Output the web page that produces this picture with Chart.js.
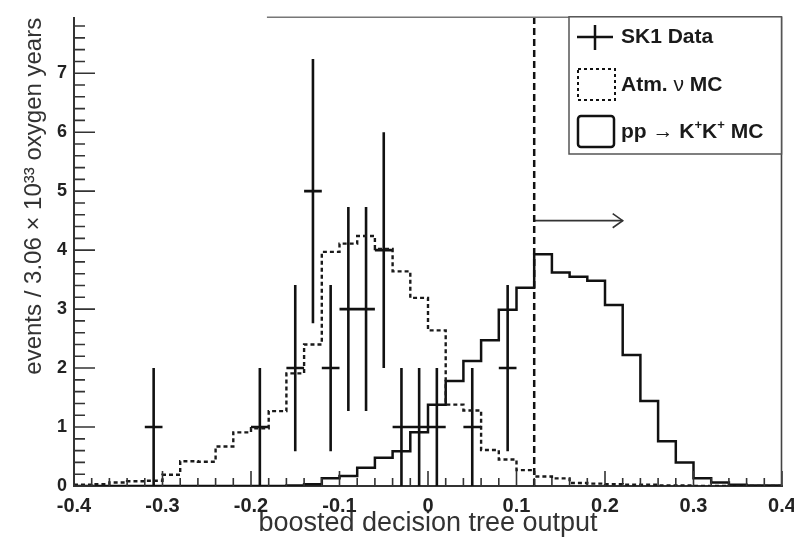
<!DOCTYPE html>
<html>
<head>
<meta charset="utf-8">
<script src="https://cdn.jsdelivr.net/npm/chart.js@4/dist/chart.umd.min.js"></script>
<style>
html,body{margin:0;padding:0;background:#fff;}
canvas{display:block;}
</style>
</head>
<body>
<canvas id="c" width="794" height="548"></canvas>
<script>
// ---------- data ----------
const binEdges = [-0.40,-0.38,-0.36,-0.34,-0.32,-0.30,-0.28,-0.26,-0.24,-0.22,
                  -0.20,-0.18,-0.16,-0.14,-0.12,-0.10,-0.08,-0.06,-0.04,-0.02,
                   0.00, 0.02, 0.04, 0.06, 0.08, 0.10, 0.12, 0.14, 0.16, 0.18,
                   0.20, 0.22, 0.24, 0.26, 0.28, 0.30, 0.32, 0.34, 0.36, 0.38, 0.40];

// Atm. nu MC (dashed histogram), one value per bin
const atmNuMC = [0.02,0.03,0.06,0.08,0.09,0.19,0.42,0.41,0.67,0.91,
                 0.98,1.27,1.91,2.40,3.97,4.11,4.24,4.02,3.64,3.19,
                 2.64,1.38,1.28,0.61,0.45,0.27,0.16,0.13,0.05,0.04,
                 0.03,0.02,0.02,0.01,0.01,0.00,0.00,0.00,0.00,0.00];

// pp -> K+K+ MC (solid histogram), one value per bin
const ppKKMC = [0.00,0.00,0.00,0.00,0.00,0.00,0.00,0.00,0.00,0.00,
                0.00,0.00,0.01,0.03,0.13,0.17,0.31,0.48,0.59,0.91,
                1.38,1.78,2.12,2.47,2.99,3.36,3.93,3.62,3.55,3.48,
                3.07,2.22,1.44,0.76,0.40,0.13,0.06,0.02,0.01,0.01];

// SK1 data points with error bars
const dataX    = [-0.31,-0.19,-0.15,-0.13,-0.11,-0.09,-0.07,-0.05,-0.03,-0.01, 0.01, 0.05, 0.09];
const dataY    = [ 1,    1,    2,    5,    2,    3,    3,    4,    1,    1,    1,    1,    2   ];
const dataLow  = [ 0,    0,    0.59, 2.76, 0.59, 1.27, 1.27, 2.00, 0,    0,    0,    0,    0.59];
const dataHigh = [ 2,    2,    3.41, 7.24, 3.41, 4.73, 4.73, 6.00, 2,    2,    2,    2,    3.41];
const dataHalfBin = 0.01;

// axis ticks
const xTickValues = [-0.4,-0.3,-0.2,-0.1,0,0.1,0.2,0.3,0.4];
const xTickLabels = ['-0.4','-0.3','-0.2','-0.1','0','0.1','0.2','0.3','0.4'];
const yTickValues = [0,1,2,3,4,5,6,7];
const yTickLabels = ['0','1','2','3','4','5','6','7'];
const xRange = [-0.4, 0.4];
const yRange = [0, 7.94];

// selection cut and arrow
const cutValue = 0.12;
const arrowY = 4.5;
const arrowEndX = 0.22;
const arrowHeadX = 0.2087;
const arrowHeadHalf = 0.12;

// legend
const legendLabels = ['SK1 Data', 'Atm. \u03BD MC', 'pp \u2192 K\u207AK\u207A MC'];

// ---------- build datasets ----------
function histPoints(vals){
  const pts = vals.map((v,i)=>({x: binEdges[i], y: v}));
  pts.push({x: binEdges[binEdges.length-1], y: vals[vals.length-1]});
  return pts;
}
const errPts = [];
dataX.forEach((x,i)=>{
  errPts.push({x:x, y:dataLow[i]}, {x:x, y:dataHigh[i]}, {x:x, y:null});
  errPts.push({x:x-dataHalfBin, y:dataY[i]}, {x:x+dataHalfBin, y:dataY[i]}, {x:x, y:null});
});

const FONT = "'Liberation Sans', Arial, Helvetica, sans-serif";

const framePlugin = {
  id: 'frame',
  afterDatasetsDraw(chart){
    const ctx = chart.ctx;
    const xs = chart.scales.x, ys = chart.scales.y;
    const ca = chart.chartArea;
    ctx.save();
    // inner tick marks
    ctx.strokeStyle = '#333';
    ctx.lineWidth = 1.6;
    ctx.beginPath();
    for (let k = 0; k <= 40; k++){
      const v = -0.4 + k*0.02;
      const px = xs.getPixelForValue(v);
      const len = (k % 5 === 0) ? 15 : 8;
      ctx.moveTo(px, ca.bottom); ctx.lineTo(px, ca.bottom - len);
    }
    for (let k = 0; k <= 39; k++){
      const v = k*0.2;
      const py = ys.getPixelForValue(v);
      const len = (k % 5 === 0) ? 21 : 11;
      ctx.moveTo(ca.left, py); ctx.lineTo(ca.left + len, py);
    }
    ctx.stroke();
    // right frame
    ctx.strokeStyle = '#444';
    ctx.lineWidth = 1.6;
    ctx.beginPath();
    ctx.moveTo(ca.right - 0.5, ca.top - 1); ctx.lineTo(ca.right - 0.5, ca.bottom);
    ctx.stroke();
    // partial top line
    ctx.strokeStyle = '#777';
    ctx.lineWidth = 1.5;
    ctx.beginPath();
    ctx.moveTo(xs.getPixelForValue(-0.182), ca.top - 0.5); ctx.lineTo(ca.right, ca.top - 0.5);
    ctx.stroke();

    // legend box
    const L = 569, T = ca.top - 1, R = ca.right - 0.5, B = 154;
    ctx.fillStyle = '#fff';
    ctx.fillRect(L, T, R - L, B - T);
    ctx.strokeStyle = '#555';
    ctx.lineWidth = 1.5;
    ctx.strokeRect(L, T, R - L, B - T);

    ctx.strokeStyle = '#111';
    // entry 1: cross
    ctx.lineWidth = 2.5;
    ctx.beginPath();
    ctx.moveTo(577, 37); ctx.lineTo(613, 37);
    ctx.moveTo(595, 25); ctx.lineTo(595, 50);
    ctx.stroke();
    // entry 2: dashed box
    ctx.lineWidth = 2;
    ctx.setLineDash([3,3]);
    ctx.strokeRect(578, 69, 37, 31);
    ctx.setLineDash([]);
    // entry 3: solid box
    ctx.lineWidth = 2.5;
    ctx.beginPath();
    if (ctx.roundRect) ctx.roundRect(578, 116, 36, 31, 3); else ctx.rect(578, 116, 36, 31);
    ctx.stroke();

    ctx.fillStyle = '#1a1a1a';
    ctx.textBaseline = 'middle';
    ctx.textAlign = 'left';
    const bold = 'bold 21px ' + FONT;
    const normal = '21px ' + FONT;
    const sup = 'bold 13px ' + FONT;
    function seg(parts, x, y){
      parts.forEach(p=>{
        ctx.font = p[1];
        ctx.fillText(p[0], x, y + (p[2]||0));
        x += ctx.measureText(p[0]).width;
      });
    }
    seg([[legendLabels[0], bold]], 621, 37);
    seg([['Atm. ', bold], ['\u03BD', normal], [' MC', bold]], 621, 85);
    seg([['pp ', bold], ['\u2192', normal], [' K', bold], ['+', sup, -7], ['K', bold], ['+', sup, -7], [' MC', bold]], 621, 132);
    ctx.restore();
  }
};

new Chart(document.getElementById('c'), {
  type: 'line',
  data: {
    datasets: [
      { label: 'Atm. \u03BD MC', data: histPoints(atmNuMC), stepped: true,
        borderColor: '#1a1a1a', borderWidth: 2.4, borderDash: [4,3], pointRadius: 0, fill: false },
      { label: 'pp \u2192 K\u207AK\u207A MC', data: histPoints(ppKKMC), stepped: true,
        borderColor: '#111', borderWidth: 2.5, pointRadius: 0, fill: false },
      { label: 'SK1 Data', data: errPts, spanGaps: false,
        borderColor: '#111', borderWidth: 2.6, pointRadius: 0, fill: false },
      { label: 'cut', data: [{x: cutValue, y: yRange[0]}, {x: cutValue, y: yRange[1]}],
        borderColor: '#111', borderWidth: 2.5, borderDash: [7,4], pointRadius: 0, fill: false },
      { label: 'arrow', data: [{x: cutValue, y: arrowY}, {x: arrowEndX, y: arrowY}],
        borderColor: '#333', borderWidth: 1.6, pointRadius: 0, fill: false },
      { label: 'arrowhead', data: [{x: arrowHeadX, y: arrowY + arrowHeadHalf}, {x: arrowEndX, y: arrowY}, {x: arrowHeadX, y: arrowY - arrowHeadHalf}],
        borderColor: '#333', borderWidth: 1.6, pointRadius: 0, fill: false }
    ]
  },
  options: {
    responsive: false,
    animation: false,
    devicePixelRatio: 1,
    layout: { padding: { top: 14, right: 0, left: 0, bottom: 0 } },
    plugins: { legend: { display: false }, tooltip: { enabled: false } },
    elements: { line: { tension: 0 } },
    scales: {
      x: {
        type: 'linear', min: xRange[0], max: xRange[1],
        afterFit(s){ s.height = 62; s.paddingLeft = 0; s.paddingRight = 12; },
        afterBuildTicks(s){ s.ticks = xTickValues.map(v=>({value: v})); },
        grid: { display: false, drawTicks: false },
        border: { display: true, color: '#333', width: 2 },
        ticks: { padding: 8, color: '#222', font: { family: FONT, size: 20, weight: 'bold' },
                 maxRotation: 0, autoSkip: false,
                 callback: (v, i) => xTickLabels[i] },
        title: { display: true, text: 'boosted decision tree output', color: '#333',
                 font: { family: FONT, size: 27 }, padding: { top: 0, bottom: 8 } }
      },
      y: {
        type: 'linear', min: yRange[0], max: yRange[1],
        afterFit(s){ s.width = 74; },
        afterBuildTicks(s){ s.ticks = yTickValues.map(v=>({value: v})); },
        grid: { display: false, drawTicks: false },
        border: { display: true, color: '#333', width: 2 },
        ticks: { padding: 7, color: '#222', font: { family: FONT, size: 18, weight: 'bold' },
                 callback: (v, i) => yTickLabels[i] },
        title: { display: true, text: 'events / 3.06 \u00D7 10\u00B3\u00B3 oxygen years', color: '#333',
                 align: 'end', font: { family: FONT, size: 24 }, padding: { top: 20, bottom: 0 } }
      }
    }
  },
  plugins: [framePlugin]
});
</script>
</body>
</html>
